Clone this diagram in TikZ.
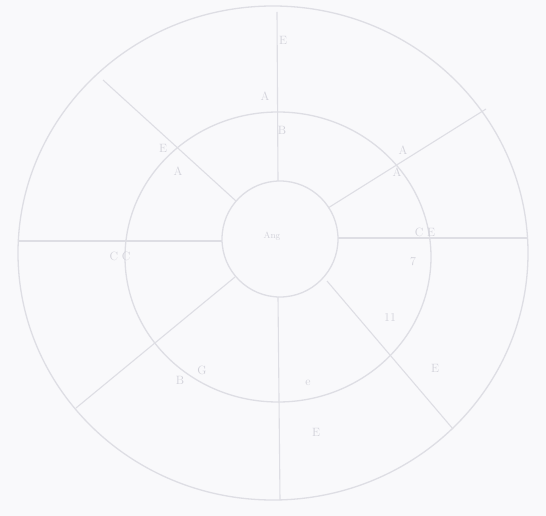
\documentclass[tikz,border=0pt]{standalone}
\definecolor{paper}{RGB}{249,249,251}
\definecolor{faint}{RGB}{222,222,228}
\definecolor{faintText}{RGB}{210,210,218}
\tikzset{
  ring/.style={draw=faint, line width=1.3pt},
  spoke/.style={draw=faint, line width=1.1pt},
  lab/.style={text=faintText, font=\large, inner sep=1pt}
}
\begin{document}
\begin{tikzpicture}[x=1pt,y=-1pt]
\fill[paper] (0,0) rectangle (546,516);
\useasboundingbox (0,0) rectangle (546,516);
% rings
\draw[ring] (273,253) ellipse [x radius=255, y radius=247];
\draw[ring] (278,257) ellipse [x radius=153, y radius=145];
\draw[ring] (280,239) circle [radius=58];
% spoke end points
\coordinate (tO) at (277,12);   \coordinate (tI) at (278,181);
\coordinate (bI) at (278,297);  \coordinate (bO) at (280,500);
\coordinate (lO) at (18,241);   \coordinate (lI) at (222,241);
\coordinate (rI) at (338,238);  \coordinate (rO) at (528,238);
\coordinate (ulO) at (103,80);  \coordinate (ulI) at (236,201);
\coordinate (urO) at (486,109); \coordinate (urI) at (328,208);
\coordinate (llO) at (76,408);  \coordinate (llI) at (235,277);
\coordinate (lrO) at (453,429); \coordinate (lrI) at (327,281);
\draw[spoke] (tO) -- (tI);
\draw[spoke] (bI) -- (bO);
\draw[spoke] (lO) -- (lI);
\draw[spoke] (rI) -- (rO);
\draw[spoke] (ulO) -- (ulI);
\draw[spoke] (urO) -- (urI);
\draw[spoke] (llO) -- (llI);
\draw[spoke] (lrO) -- (lrI);
% labels
\node[lab] (l1) at (283,40) {E};
\node[lab] (l2) at (265,96) {A};
\node[lab] (l3) at (282,130) {B};
\node[lab] (l4) at (163,148) {E};
\node[lab] (l5) at (178,171) {A};
\node[lab] (l6) at (403,150) {A};
\node[lab] (l7) at (397,172) {A};
\node[lab, font=\small] (l8) at (272,236) {Ang};
\node[lab] (l9) at (425,232) {C E};
\node[lab] (l10) at (120,256) {C C};
\node[lab] (l11) at (413,262) {7};
\node[lab] (l12) at (390,318) {11};
\node[lab] (l13) at (435,368) {E};
\node[lab] (l14) at (180,380) {B};
\node[lab] (l15) at (202,370) {G};
\node[lab] (l16) at (308,383) {e};
\node[lab] (l17) at (316,432) {E};
\end{tikzpicture}
\end{document}
